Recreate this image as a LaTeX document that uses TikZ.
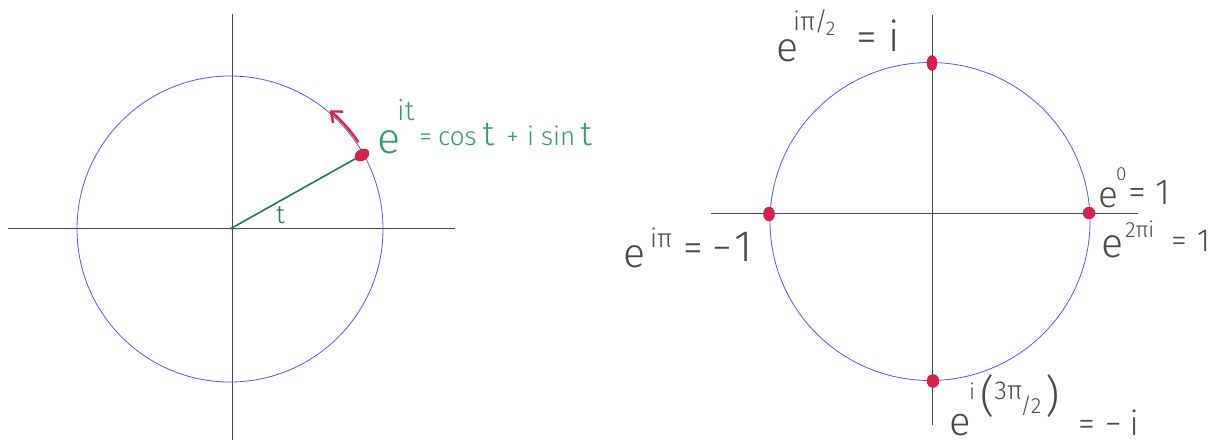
\documentclass[tikz,border=0pt]{standalone}
\usepackage{fontspec}
\setmainfont{Fira Sans}[UprightFont={* Light}]
\usetikzlibrary{arrows.meta,shapes.geometric}
\definecolor{circblue}{HTML}{5A5AD8}
\definecolor{axisgray}{HTML}{4A4A4A}
\definecolor{txtgreen}{HTML}{2E9E6A}
\definecolor{linegreen}{HTML}{1F7A4A}
\definecolor{dotred}{HTML}{DC1F4E}
\newcommand{\fs}[1]{\fontsize{#1}{#1}\selectfont}
\begin{document}
\begin{tikzpicture}[x=1pt,y=-1pt,
  axis/.style={axisgray, line width=0.9pt},
  unit/.style={circblue, line width=0.8pt},
  dot/.style={ellipse, fill=dotred, draw=dotred!80!black, line width=0.4pt, inner sep=0pt},
  lbl/.style={inner sep=0pt, anchor=base west, text=axisgray},
  glbl/.style={inner sep=0pt, anchor=base west, text=txtgreen},
 ]
\useasboundingbox (0,0) rectangle (1219,444);
\fill[white] (0,0) rectangle (1219,444);

% ---------- left diagram ----------
\coordinate (O1) at (230,229);
\draw[axis] (232,14) -- (232,440);
\draw[axis] (8,228) -- (455,228);
\draw[unit] (O1) circle[radius=153pt];
\node[dot, minimum width=15pt, minimum height=11pt, rotate=30] (P1) at (362,155) {};
\draw[linegreen, line width=1.6pt] (O1) -- (P1);
\draw[dotred, line width=2.4pt, -{Straight Barb[length=9pt,width=15pt]}]
  plot[domain=34:50, samples=20, smooth] ({230+155*cos(\x)},{229-155*sin(\x)});
\node[lbl, text=linegreen] (tlab) at (276,223) {\fs{26}t};
\node[glbl] (eL) at (377,153) {\fs{43}e};
\node[glbl] (supL) at (397,121) {\fs{28}it};
\node[glbl] (rhsL) at (419,145) {\fs{26}=\kern6pt cos\kern6pt{\fs{34}t}\kern12pt+\kern8pt i\kern7pt sin\kern5pt{\fs{34}t}};

% ---------- right diagram ----------
\coordinate (O2) at (930,221.5);
\draw[axis] (932,15) -- (932,425);
\draw[axis] (711,213) -- (1138,213);
\draw[unit] (O2) ellipse[x radius=160pt, y radius=159pt];
\node[dot, minimum width=12pt, minimum height=12pt] (D0) at (1089,213) {};
\node[dot, minimum width=10pt, minimum height=15pt] (D1) at (932,63) {};
\node[dot, minimum width=11pt, minimum height=14pt] (D2) at (769,214) {};
\node[dot, minimum width=12pt, minimum height=13pt] (D3) at (933,381) {};

\node[lbl] (eA) at (776,62) {\fs{41}e};
\node[lbl] (sA) at (793,31) {\fs{26}iπ\kern-1pt/\kern-2pt\raisebox{-5pt}{\fs{20}2}};
\node[lbl] (rA) at (856,52) {\fs{42}=\kern12pt i};

\node[lbl] (eB) at (623,267) {\fs{41}e};
\node[lbl] (sB) at (650,247) {\fs{26}iπ};
\node[lbl] (rB) at (683,261) {\fs{40}=\kern10pt−\kern2pt{\fs{44}1}};

\node[lbl] (eC) at (1098,207) {\fs{37}e};
\node[lbl] (sC) at (1116,180) {\fs{19}0};
\node[lbl] (rC) at (1128,204) {\fs{36}=\kern10pt 1};

\node[lbl] (eD) at (1101,257) {\fs{41}e};
\node[lbl] (sD) at (1125,237) {\fs{22}2πi};
\node[lbl] (rD) at (1171,251) {\fs{32}=\kern10pt 1};

\node[lbl] (eE) at (949,435) {\fs{40}e};
\node[lbl] (sE) at (969,411) {\raisebox{12pt}{\fs{22}i}\kern5pt{\fs{44}(}\raisebox{12pt}{\fs{26}3π}\kern-2pt\raisebox{-2pt}{\fs{22}/2}\kern4pt{\fs{44})}};
\node[lbl] (rE) at (1078,435) {\fs{34}=\kern10pt−\kern8pt i};
\end{tikzpicture}
\end{document}
